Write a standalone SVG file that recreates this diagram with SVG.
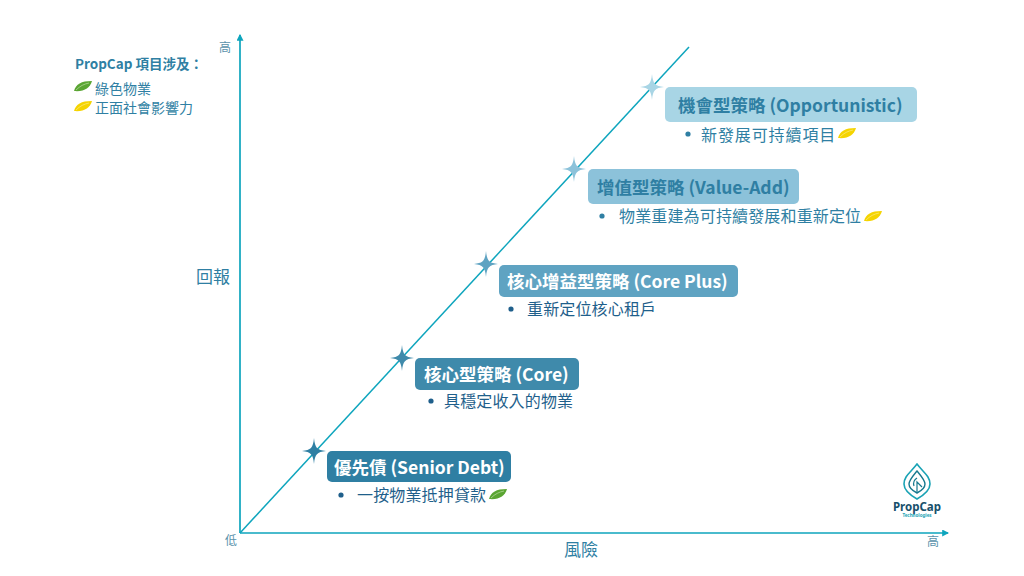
<svg xmlns="http://www.w3.org/2000/svg" width="1024" height="576" viewBox="0 0 1024 576">
<style>
text{font-family:"Noto Sans CJK TC","Noto Sans",sans-serif}
.ax{font-size:12px;fill:#5b93ac}
.big{font-size:17px;fill:#2f7fa3}
.h{font-size:17.5px;font-weight:700}
.b{font-size:16px;letter-spacing:.15px}
.leg{font-size:14px;fill:#2f7fa3}
</style>
<defs>
<marker id="ah" markerWidth="7" markerHeight="7" refX="5" refY="3" orient="auto" markerUnits="userSpaceOnUse" viewBox="0 0 6 6"><path d="M0 0L6 3L0 6z" fill="#0ea5bd"/></marker>
<path id="star" d="M0-13C1-3 3-1 12 0C3 1 1 3 0 13C-1 3-3 1-12 0C-3-1-1-3 0-13z"/>
<g id="leafG"><path d="M-9 5C-7-2-2-5 9-5C7 2 1 6-9 5z" fill="#5aa532"/><path d="M-7 4C-3 0 1-2 6-3" stroke="#cfe8b8" stroke-width=".6" fill="none"/></g>
<g id="leafY"><path d="M-9 5C-7-2-2-5 9-5C7 2 1 6-9 5z" fill="#f5d400"/><path d="M-7 4C-3 0 1-2 6-3" stroke="#fbeea0" stroke-width=".6" fill="none"/></g>
</defs>
<g id="connectors" fill="none" stroke="#0ea5bd" stroke-width="1.7">
<path d="M240 533V35" marker-end="url(#ah)"/>
<path d="M240 533H948" marker-end="url(#ah)"/>
<path d="M240 533L689 47" stroke-width="1.5"/>
</g>
<g id="axis-labels">
<text class="ax" x="219" y="52">高</text>
<text class="ax" x="225" y="545">低</text>
<text class="ax" x="927" y="546">高</text>
<text class="big" x="196" y="283">回報</text>
<text class="big" x="564" y="556">風險</text>
</g>
<g id="legend">
<text x="75" y="69" font-size="13.5" font-weight="700" fill="#2f7fa3">PropCap 項目涉及：</text>
<use href="#leafG" x="83" y="86"/>
<text class="leg" x="95" y="94">綠色物業</text>
<use href="#leafY" x="83" y="106"/>
<text class="leg" x="95" y="113">正面社會影響力</text>
</g>
<g id="node-opportunistic">
<use href="#star" x="652" y="87" fill="#a8d5e5"/>
<rect x="665" y="87" width="252" height="35" rx="5" fill="#a8d5e5"/>
<text class="h" x="678" y="112" fill="#2f7fa3">機會型策略 (Opportunistic)</text>
<circle cx="688" cy="134" r="2.6" fill="#2f7fa3"/>
<text class="b" x="701" y="141" fill="#2f7fa3" style="letter-spacing:.9px">新發展可持續項目</text>
<use href="#leafY" x="847" y="133"/>
</g>
<g id="node-value-add">
<use href="#star" x="574" y="169" fill="#8cc2da"/>
<rect x="588" y="169" width="211" height="35" rx="5" fill="#8cc2da"/>
<text class="h" x="597" y="194" fill="#2f7fa3">增值型策略 (Value-Add)</text>
<circle cx="602" cy="216" r="2.6" fill="#2f7fa3"/>
<text class="b" x="619" y="222" fill="#2f7fa3">物業重建為可持續發展和重新定位</text>
<use href="#leafY" x="873" y="216"/>
</g>
<g id="node-core-plus">
<use href="#star" x="486" y="264" fill="#5fa3c2"/>
<rect x="499" y="265" width="239" height="32" rx="5" fill="#5fa3c2"/>
<text class="h" x="507" y="288" fill="#fff">核心增益型策略 (Core Plus)</text>
<circle cx="511" cy="309" r="2.6" fill="#1f5f8b"/>
<text class="b" x="527" y="315" fill="#1f5f8b">重新定位核心租戶</text>
</g>
<g id="node-core">
<use href="#star" x="402" y="358" fill="#3f8aab"/>
<rect x="415" y="358" width="164" height="32" rx="5" fill="#3f8aab"/>
<text class="h" x="424" y="381" fill="#fff">核心型策略 (Core)</text>
<circle cx="431" cy="401" r="2.6" fill="#1f5f8b"/>
<text class="b" x="444" y="407" fill="#1f5f8b">具穩定收入的物業</text>
</g>
<g id="node-senior-debt">
<use href="#star" x="314" y="451" fill="#2f7fa3"/>
<rect x="327" y="451" width="184" height="31" rx="5" fill="#2f7fa3"/>
<text class="h" x="334" y="474" fill="#fff">優先債 (Senior Debt)</text>
<circle cx="341" cy="495" r="2.6" fill="#1f5f8b"/>
<text class="b" x="357" y="501" fill="#1f5f8b">一按物業抵押貸款</text>
<use href="#leafG" x="498" y="494"/>
</g>
<g id="logo">
<path d="M917 464C923 472 930 476 930 484C930 490 924 495 917 499C910 495 904 490 904 484C904 476 911 472 917 464z" fill="none" stroke="#1aa3b5" stroke-width="1.6"/>
<path d="M917 471C921 476 925 480 925 484C925 488 921 491 917 493C913 491 909 488 909 484C909 480 913 476 917 471z" fill="none" stroke="#17798f" stroke-width="1.4"/>
<path d="M917 493V482L922 487M917 478C914 480 913 483 914 486" fill="none" stroke="#17798f" stroke-width="1.2"/>
<text x="917" y="511" text-anchor="middle" font-size="11.5" font-weight="700" fill="#17506b" style="font-family:'Noto Sans',sans-serif">PropCap</text>
<text x="917" y="517" text-anchor="middle" font-size="4.5" font-weight="700" fill="#1aa3b5" style="font-family:'Noto Sans',sans-serif">Technologies</text>
</g>
</svg>
